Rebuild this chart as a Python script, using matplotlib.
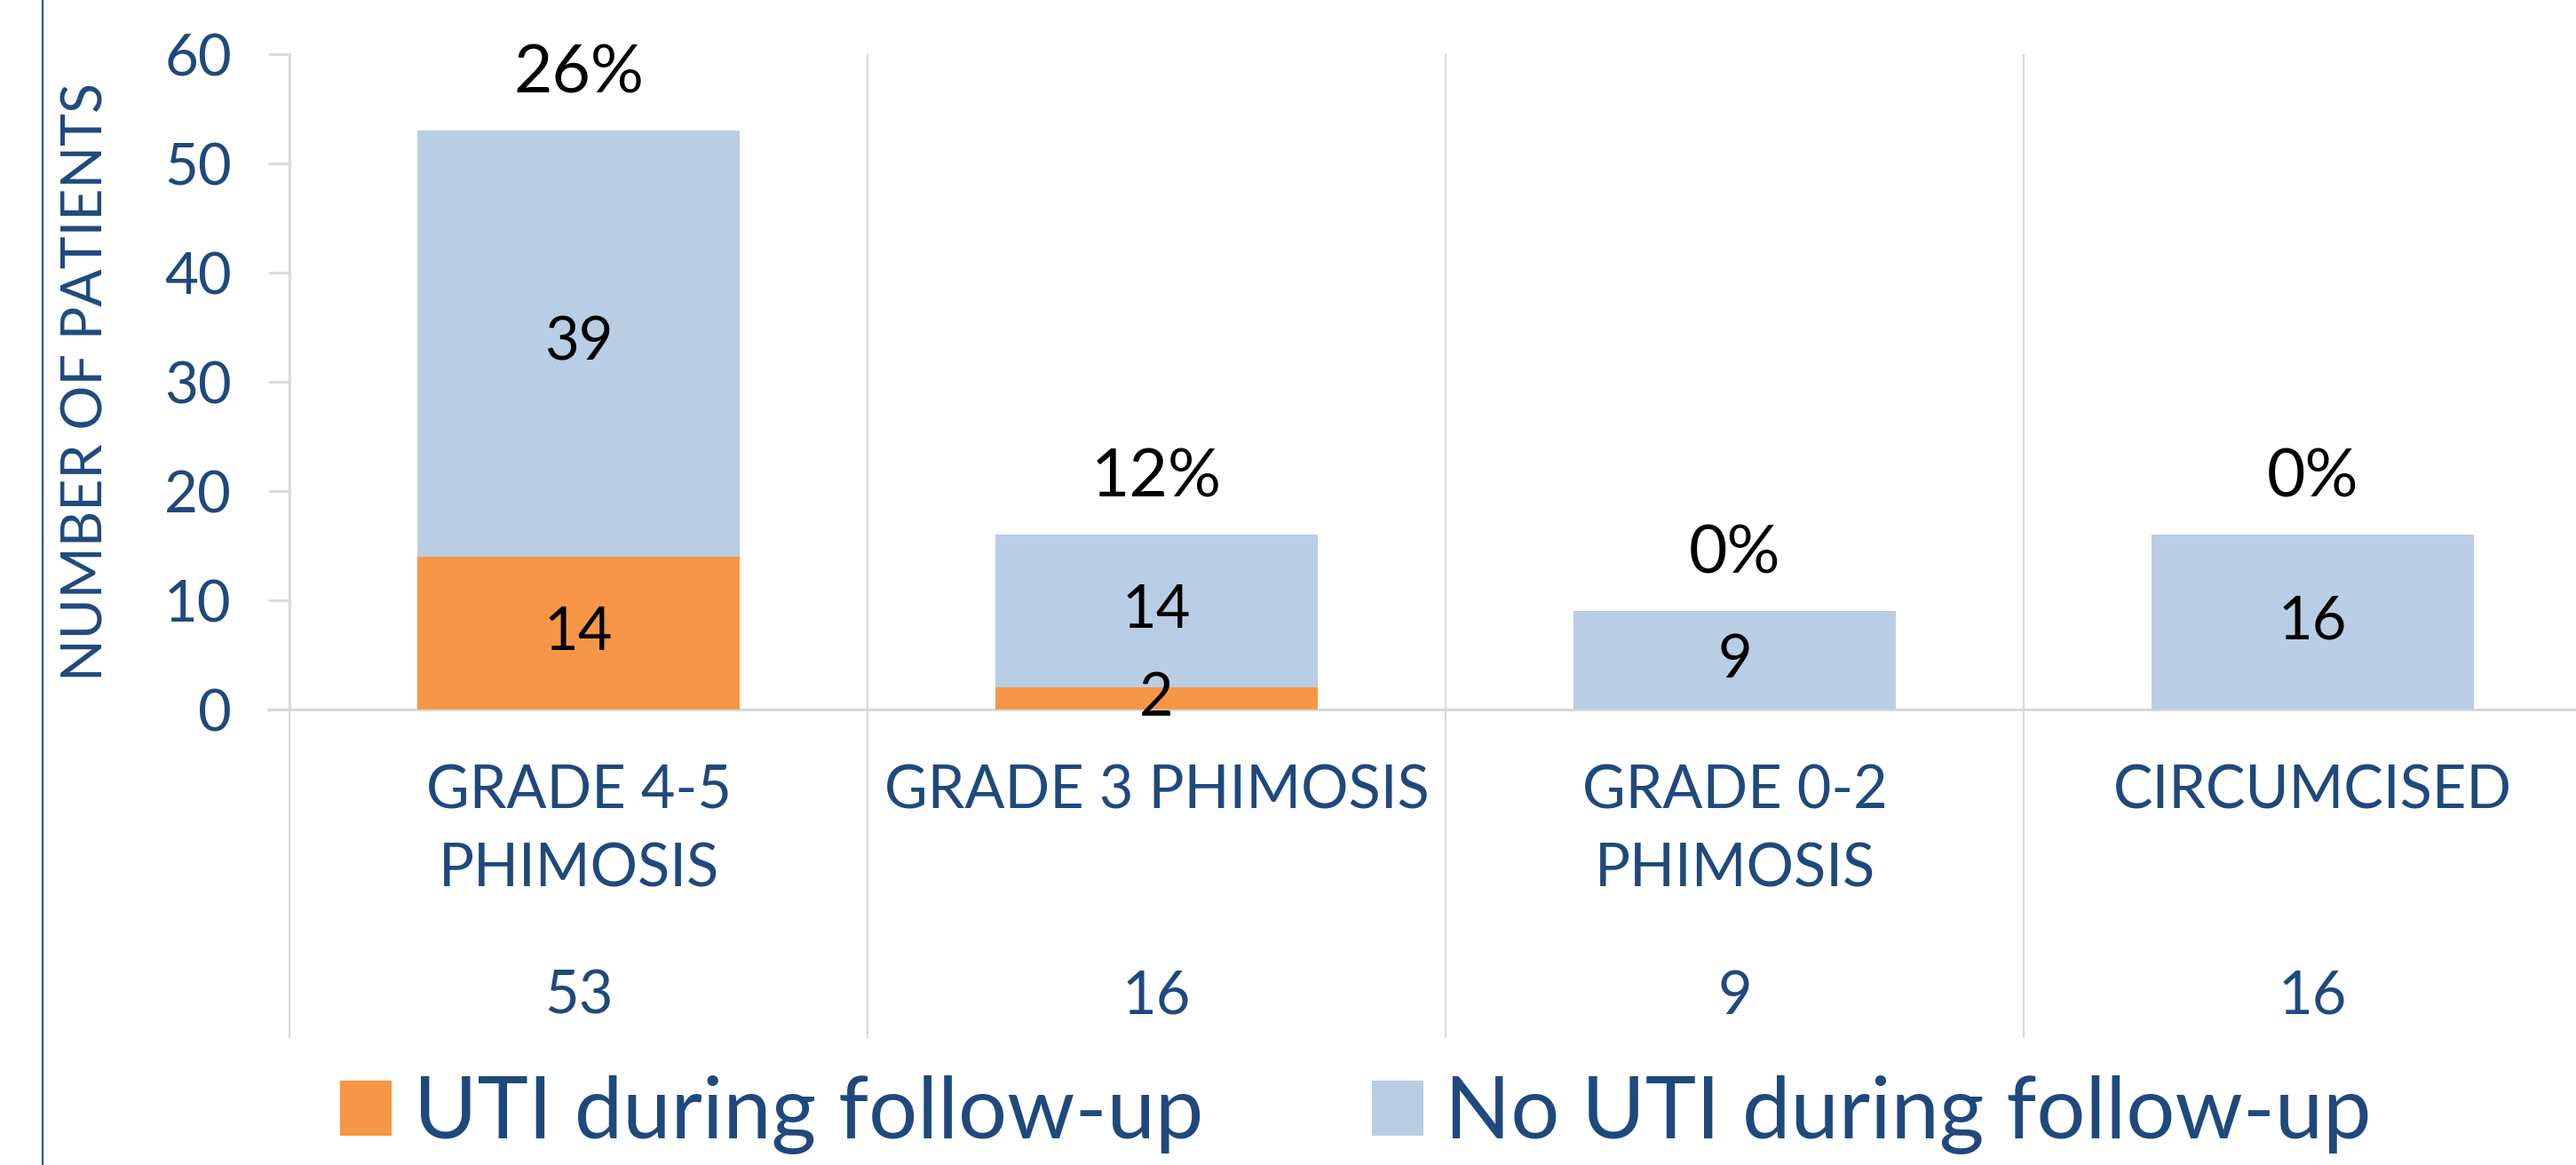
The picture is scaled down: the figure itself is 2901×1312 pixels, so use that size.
import matplotlib
matplotlib.use("Agg")
import matplotlib.pyplot as plt
from matplotlib.patches import Patch
from matplotlib.lines import Line2D

# ==========================
# 1. DATA
# ==========================

categories = [
    "GRADE 4-5\nPHIMOSIS",
    "GRADE 3 PHIMOSIS",
    "GRADE 0-2\nPHIMOSIS",
    "CIRCUMCISED",
]

totals = [53, 16, 9, 16]

uti = [14, 2, 0, 0]
no_uti = [39, 14, 9, 16]

pct_labels = ["26%", "12%", "0%", "0%"]

series_names = ["UTI during follow-up", "No UTI during follow-up"]

yticks = [0, 10, 20, 30, 40, 50, 60]

# ==========================
# 2. STYLE
# ==========================

ORANGE = "#F79646"
LIGHT_BLUE = "#B9CDE5"
TEXT_BLUE = "#1F497D"
GRID = "#D9D9D9"

plt.rcParams["font.family"] = ["Lato", "DejaVu Sans"]

# ==========================
# 3. FIGURE
# ==========================

fig = plt.figure(figsize=(29.01, 13.12), dpi=100)
ax = fig.add_axes([0.1124, 0.391, 0.8976, 0.5625])

x = list(range(len(categories)))
bar_w = 0.557

ax.bar(x, uti, width=bar_w, color=ORANGE, linewidth=0)
ax.bar(x, no_uti, bottom=uti, width=bar_w, color=LIGHT_BLUE, linewidth=0)

# labels inside segments
for i in x:
    if uti[i] > 0:
        ax.text(i, uti[i] / 2, str(uti[i]), ha="center", va="center",
                fontsize=48, color="black")
    ax.text(i, uti[i] + no_uti[i] / 2, str(no_uti[i]), ha="center",
            va="center", fontsize=48, color="black")
    # percentage above the bar
    ax.text(i, totals[i] + 5.2, pct_labels[i], ha="center", va="center",
            fontsize=54, color="black")

# ==========================
# 4. AXES
# ==========================

ax.set_xlim(-0.5, 3.5)
ax.set_ylim(0, 60)

for side in ["top", "right", "bottom"]:
    ax.spines[side].set_visible(False)
ax.spines["left"].set_color(GRID)
ax.spines["left"].set_linewidth(2)

ax.set_yticks(yticks)
ax.tick_params(axis="y", direction="out", length=17, width=2, color=GRID,
               labelsize=47, labelcolor=TEXT_BLUE, pad=30)

ax.set_xticks([])

# baseline at zero, starting at the tick ends
ax.plot([-0.5 - 24 / 651, 3.5], [0, 0], color=GRID, linewidth=2.2,
        clip_on=False, zorder=0.5)

# category separators reaching down past the labels
sep_x = [i - 0.5 for i in range(len(categories) + 1)]
ax.vlines(sep_x, -0.501, 1, transform=ax.get_xaxis_transform(),
          color=GRID, linewidth=1.6, clip_on=False, zorder=0.5)

# category labels and group sizes
for i, cat in enumerate(categories):
    ax.text(i, -0.083, cat, transform=ax.get_xaxis_transform(),
            ha="center", va="top", fontsize=48, color=TEXT_BLUE,
            linespacing=1.52)
    ax.text(i, -0.439, str(totals[i]), transform=ax.get_xaxis_transform(),
            ha="center", va="center", fontsize=48, color=TEXT_BLUE)

ax.set_ylabel("NUMBER OF PATIENTS", fontsize=45, color=TEXT_BLUE)
ax.yaxis.set_label_coords(-0.0768, 0.5)

# ==========================
# 5. LEGEND
# ==========================

handles = [
    Patch(facecolor=ORANGE, edgecolor="none"),
    Patch(facecolor=LIGHT_BLUE, edgecolor="none"),
]

leg = fig.legend(handles, series_names, loc="center left",
                 bbox_to_anchor=(0.132, 0.043), ncol=2, frameon=False,
                 fontsize=70, handlelength=0.6, handleheight=0.6,
                 handletextpad=0.25, columnspacing=1.95, borderpad=0,
                 borderaxespad=0)
for t in leg.get_texts():
    t.set_color(TEXT_BLUE)

# slide border on the left
fig.add_artist(Line2D([48 / 2901, 48 / 2901], [0, 1], color="#2E5C94",
                      linewidth=1.6, transform=fig.transFigure))

fig.savefig("out.png", dpi=100)
